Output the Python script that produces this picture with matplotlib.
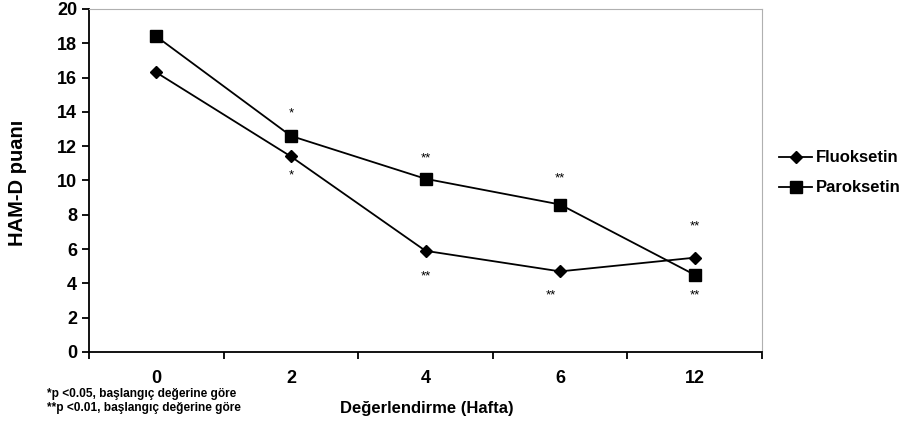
import matplotlib.pyplot as plt
import numpy as np

# data
weeks = ['0', '2', '4', '6', '12']
fluoksetin = [16.3, 11.4, 5.9, 4.7, 5.5]
paroksetin = [18.4, 12.6, 10.1, 8.6, 4.5]

# significance marks: (index, value, label)
marks_up = [(1, 13.9, '*'), (2, 11.3, '**'), (3, 10.1, '**'), (4, 7.3, '**')]
marks_down = [(1, 10.3, '*'), (2, 4.4, '**'), (3, 3.3, '**'), (4, 3.3, '**')]

plt.rcParams['font.family'] = ['Liberation Sans', 'DejaVu Sans']

fig = plt.figure(figsize=(9.1, 4.28), dpi=100)
ax = fig.add_axes([89/910, 1 - 352/428, (762-89)/910, (352-9)/428])

x = np.arange(len(weeks))
ax.plot(x, fluoksetin, color='black', lw=1.3, marker='D', ms=6, label='Fluoksetin')
ax.plot(x, paroksetin, color='black', lw=1.3, marker='s', ms=8, label='Paroksetin')

for i, v, s in marks_up:
    ax.text(x[i], v, s, ha='center', va='center', fontsize=9.5)
for i, v, s in marks_down:
    dx = -0.07 if i == 3 else 0
    ax.text(x[i] + dx, v, s, ha='center', va='center', fontsize=9.5)

ax.set_xlim(-0.5, len(weeks) - 0.5)
ax.set_ylim(0, 20)
ax.set_yticks(np.arange(0, 21, 2))
ax.set_xticks(x)
ax.set_xticklabels(weeks)
ax.set_xticks(np.arange(-0.5, len(weeks)), minor=True)
ax.tick_params(axis='x', which='major', length=0, pad=13, labelsize=13)
ax.tick_params(axis='x', which='minor', length=5, width=1.3, direction='out')
ax.tick_params(axis='y', length=5, width=1.3, labelsize=13)
for lbl in ax.get_xticklabels() + ax.get_yticklabels():
    lbl.set_fontweight('bold')

ax.spines['left'].set_linewidth(1.3)
ax.spines['bottom'].set_linewidth(1.3)
ax.spines['top'].set_color('#b0b0b0')
ax.spines['right'].set_color('#b0b0b0')

fig.text(18/910, 1 - 183/428, 'HAM-D puanı', fontsize=14.5, fontweight='bold',
         rotation=90, ha='center', va='center')
fig.text(427/910, 1 - 409/428, 'Değerlendirme (Hafta)', fontsize=12, fontweight='bold',
         ha='center', va='center')

fig.text(47/910, 1 - 394/428, '*p <0.05, başlangıç değerine göre', fontsize=8.6,
         fontweight='bold', va='center')
fig.text(47/910, 1 - 408/428, '**p <0.01, başlangıç değerine göre', fontsize=8.6,
         fontweight='bold', va='center')

leg = fig.legend(loc='center left', bbox_to_anchor=(764/910, 1 - 173/428), frameon=False,
                 handlelength=2.0, handletextpad=0.2, labelspacing=0.9,
                 prop={'weight': 'bold', 'size': 12})

fig.savefig('out.png', dpi=100)
